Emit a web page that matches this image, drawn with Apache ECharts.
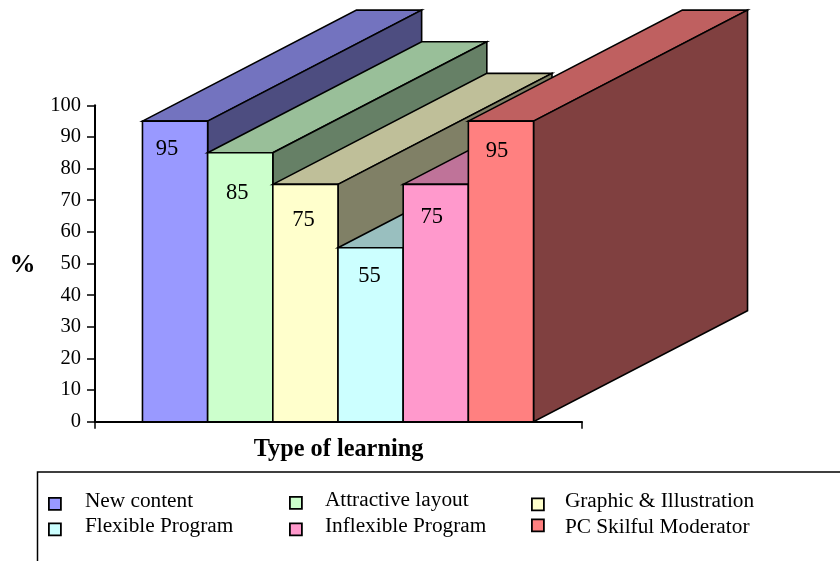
<!DOCTYPE html>
<html>
<head>
<meta charset="utf-8">
<title>Type of learning</title>
<script src="https://cdn.jsdelivr.net/npm/echarts@6/dist/echarts.min.js"></script>
<style>
  html, body { margin: 0; padding: 0; background: #fff; }
  #chart { width: 840px; height: 561px; }
</style>
</head>
<body>
<div id="chart"></div>
<script>
// Survey results
const xCategories = ['Type of learning'];
const seriesNames = ['New content', 'Attractive layout', 'Graphic & Illustration',
                     'Flexible Program', 'Inflexible Program', 'PC Skilful Moderator'];
const seriesValues = [95, 85, 75, 55, 75, 95];

// Shades for the three visible faces of each column
const frontColors = ['#9999FF', '#CCFFCC', '#FFFFCC', '#CCFFFF', '#FF99CC', '#FF8080'];
const topColors   = ['#7373BF', '#99BF99', '#BFBF99', '#99BFBF', '#BF7399', '#BF6060'];
const sideColors  = ['#4D4D80', '#668066', '#808066', '#668080', '#804D66', '#804040'];

// Oblique projection and layout settings
const depthX = 214;
const depthY = 111;
const bandFill = 0.803;
const labelShift = [[-8, 28], [-3, 40], [-2, 36], [-1, 28], [-4, 33], [-4, 30]];
// Legend entries: left edge, swatch centre, text lift above the swatch, swatch-to-text gap
const legendSpots = [
  [48, 504, 2.5, 19], [289, 503, 2, 18], [531, 504.5, 3, 16],
  [48, 529.5, 3, 19], [289, 529.5, 3, 18], [531, 529.5, -2, 16]
];
const legendFontSize = 21.3;
const serif = '"Liberation Serif", "Times New Roman", serif';

function renderColumn(i) {
  return function (params, api) {
    const base = api.coord([0, 0]);
    const tip = api.coord([0, api.value(1)]);
    const w = api.size([1, 0])[0] * bandFill / seriesNames.length;
    const x0 = base[0] + (i - seriesNames.length / 2) * w - 0.5;
    const x1 = x0 + w;
    const yB = base[1];
    const yT = tip[1];
    const edge = { stroke: '#000', lineWidth: 1.6, lineJoin: 'miter' };
    return {
      type: 'group',
      children: [
        {
          type: 'polygon',
          shape: { points: [[x0, yT], [x0 + depthX, yT - depthY], [x1 + depthX, yT - depthY], [x1, yT]] },
          style: Object.assign({ fill: topColors[i] }, edge)
        },
        {
          type: 'polygon',
          shape: { points: [[x1, yT], [x1 + depthX, yT - depthY], [x1 + depthX, yB - depthY], [x1, yB]] },
          style: Object.assign({ fill: sideColors[i] }, edge)
        },
        {
          type: 'rect',
          shape: { x: x0, y: yT, width: w, height: yB - yT },
          style: Object.assign({ fill: frontColors[i] }, edge)
        },
        {
          type: 'text',
          style: {
            text: String(api.value(1)),
            x: (x0 + x1) / 2 + labelShift[i][0],
            y: yT + labelShift[i][1],
            fill: '#000',
            font: '22.5px ' + serif,
            align: 'center',
            verticalAlign: 'middle'
          }
        }
      ]
    };
  };
}

const legends = seriesNames.map(function (name, i) {
  const spot = legendSpots[i];
  const lift = spot[2];
  const blockHeight = legendFontSize + 2 * Math.abs(lift);
  return {
    left: spot[0],
    top: spot[1] - blockHeight / 2,
    padding: 0,
    itemWidth: 12,
    itemHeight: 12,
    selectedMode: false,
    formatter: '{t|{name}}',
    textStyle: {
      rich: {
        t: {
          fontFamily: serif,
          fontSize: legendFontSize,
          color: '#000',
          padding: [Math.max(-2 * lift, 0), 0, Math.max(2 * lift, 0), spot[3]]
        }
      }
    },
    data: [{
      name: name,
      icon: 'rect',
      itemStyle: { color: frontColors[i], borderColor: '#000', borderWidth: 1.8 }
    }]
  };
});

const chart = echarts.init(document.getElementById('chart'), null, { renderer: 'canvas' });
chart.setOption({
  animation: false,
  backgroundColor: '#fff',
  grid: { left: 95, right: 258, top: 105.3, height: 316.4, outerBoundsMode: 'none' },
  xAxis: {
    type: 'category',
    data: xCategories,
    name: xCategories[0],
    nameLocation: 'center',
    nameGap: 16,
    nameTextStyle: { fontFamily: serif, fontSize: 24.3, fontWeight: 'bold', color: '#000' },
    axisLine: { lineStyle: { color: '#000', width: 2 } },
    axisTick: { show: true, length: 7, lineStyle: { color: '#000', width: 1.5 } },
    axisLabel: { show: false },
    splitLine: { show: false }
  },
  yAxis: {
    type: 'value',
    min: 0,
    max: 100,
    interval: 10,
    name: '{p|%}',
    nameLocation: 'center',
    nameRotate: 0,
    nameGap: 59.5,
    nameTextStyle: {
      rich: {
        p: { fontFamily: serif, fontSize: 26, fontWeight: 'bold', color: '#000', padding: [4, 0, 0, 0] }
      }
    },
    axisLine: { show: true, lineStyle: { color: '#000', width: 2 } },
    axisTick: { show: true, length: 8, lineStyle: { color: '#000', width: 1.5 } },
    axisLabel: { fontFamily: serif, fontSize: 20.5, color: '#000', margin: 14 },
    splitLine: { show: false }
  },
  legend: legends,
  graphic: [{
    type: 'rect',
    z: -1,
    shape: { x: 37.5, y: 472, width: 900, height: 200 },
    style: { fill: 'none', stroke: '#000', lineWidth: 1.5 }
  }],
  series: seriesNames.map(function (name, i) {
    return {
      name: name,
      type: 'custom',
      coordinateSystem: 'cartesian2d',
      encode: { x: 0, y: 1 },
      data: [[xCategories[0], seriesValues[i]]],
      renderItem: renderColumn(i)
    };
  })
});
</script>
</body>
</html>
